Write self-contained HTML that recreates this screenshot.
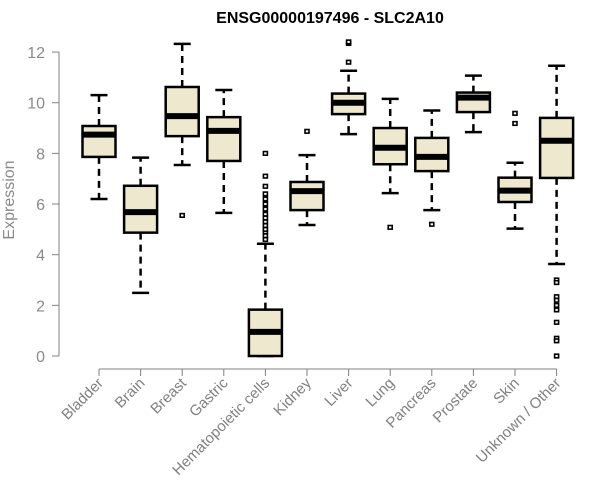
<!DOCTYPE html>
<html><head><meta charset="utf-8"><style>
body{margin:0;background:#fff;}
svg{display:block;font-family:"Liberation Sans",Arial,sans-serif;}
</style></head><body>
<svg id="chart" width="600" height="500">
<text x="330" y="23" text-anchor="middle" font-weight="bold" font-size="16" fill="#000">ENSG00000197496 - SLC2A10</text>
<text transform="translate(14,200) rotate(-90)" text-anchor="middle" font-size="16" fill="#8a8a8a">Expression</text>
<g id="axes"></g><g id="boxes"></g>
</svg>
<script>
const categories=["Bladder","Brain","Breast","Gastric","Hematopoietic cells","Kidney","Liver","Lung","Pancreas","Prostate","Skin","Unknown / Other"];
const whiskerLow=[6.2,2.49,7.54,5.65,0,5.17,8.76,6.43,5.76,8.84,5.03,3.63];
const q1=[7.86,4.87,8.68,7.7,0,5.76,9.55,7.57,7.3,9.63,6.08,7.03];
const medians=[8.74,5.68,9.47,8.89,0.95,6.51,10.0,8.22,7.86,10.2,6.53,8.5];
const q3=[9.08,6.72,10.62,9.43,1.83,6.87,10.36,9.0,8.61,10.4,7.04,9.4];
const whiskerHigh=[10.3,7.83,12.32,10.5,4.43,7.93,11.26,10.15,9.69,11.07,7.63,11.46];
const outliers=[[],[],[5.55],[],[4.6,4.75,4.9,5.0,5.15,5.3,5.45,5.6,5.8,6.0,6.2,6.4,6.7,7.1,8.0],[8.87],[12.34,12.4,11.6],[5.08],[5.2],[],[9.58,9.18],[3.0,2.9,2.34,2.2,2.0,1.82,1.33,0.7,0.6,0]];
const yTicks=[0,2,4,6,8,10,12];
const ns="http://www.w3.org/2000/svg";
const y=v=>356-v*25.33;
const x=i=>99+i*41.6;
function mk(t,a,p){const e=document.createElementNS(ns,t);for(const k in a)e.setAttribute(k,a[k]);p.appendChild(e);return e;}
const ax=document.getElementById('axes'),bx=document.getElementById('boxes');
const yl=mk('line',{x1:59,x2:59,y1:y(0),y2:y(12),stroke:'#808080'},ax);


yTicks.forEach(t=>{
 const l=mk('line',{x1:52,x2:59,y1:y(t),y2:y(t),stroke:'#808080'},ax);
 
 
 const tx=mk('text',{x:45,y:y(t)+6,'text-anchor':'end','font-size':16,fill:'#8a8a8a'},ax);tx.textContent=t;
 
 
});
const xl=mk('line',{x1:x(0),x2:x(categories.length-1),y1:369,y2:369,stroke:'#808080'},ax);


categories.forEach((c,i)=>{
 const cx=x(i),w=16.5;
 const t=mk('line',{x1:cx,x2:cx,y1:369,y2:376,stroke:'#808080'},ax);
 
 
 const lb=mk('text',{transform:`translate(${cx+5},${384}) rotate(-45)`,'text-anchor':'end','font-size':15,fill:'#808080'},ax);lb.textContent=c;
 
 
 const g=mk('g',{},bx);
 
 
 mk('line',{x1:cx,x2:cx,y1:y(q3[i]),y2:y(whiskerHigh[i]),stroke:'#000','stroke-width':2.5,'stroke-dasharray':'7,5'},g);
 mk('line',{x1:cx,x2:cx,y1:y(q1[i]),y2:y(whiskerLow[i]),stroke:'#000','stroke-width':2.5,'stroke-dasharray':'7,5'},g);
 mk('line',{x1:cx-8.5,x2:cx+8.5,y1:y(whiskerHigh[i]),y2:y(whiskerHigh[i]),stroke:'#000','stroke-width':2.5},g);
 mk('line',{x1:cx-8.5,x2:cx+8.5,y1:y(whiskerLow[i]),y2:y(whiskerLow[i]),stroke:'#000','stroke-width':2.5},g);
 mk('rect',{x:cx-w,y:y(q3[i]),width:2*w,height:y(q1[i])-y(q3[i]),fill:'#EEE8CE',stroke:'#000','stroke-width':2.5},g);
 mk('line',{x1:cx-w,x2:cx+w,y1:y(medians[i]),y2:y(medians[i]),stroke:'#000','stroke-width':6},g);
 outliers[i].forEach(o=>{
  const p=mk('rect',{x:cx-2,y:y(o)-1.8,width:4,height:3.6,fill:'#fff',stroke:'#000','stroke-width':1.6},g);
  
  
 });
});
</script>
</body></html>
